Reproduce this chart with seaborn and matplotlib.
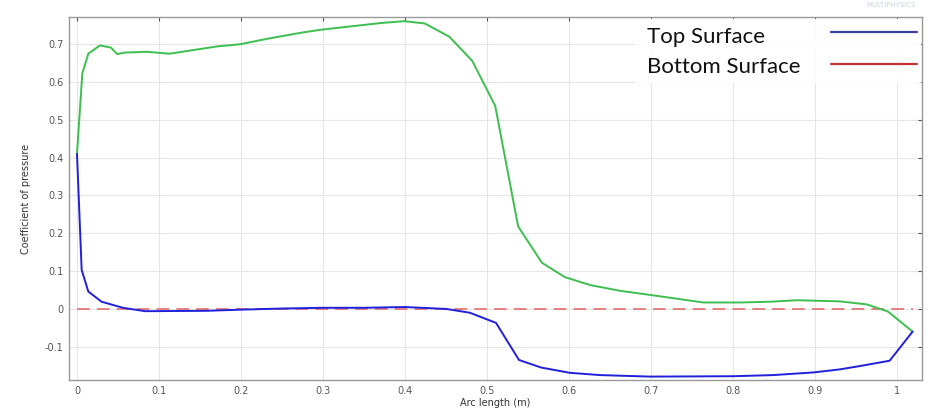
import matplotlib
matplotlib.use("Agg")
import matplotlib.pyplot as plt
import seaborn as sns
from matplotlib.lines import Line2D
from matplotlib.patches import Rectangle

# Upper (green) curve
green_x = [0.0, 0.0065, 0.0138, 0.028, 0.0415, 0.049, 0.0585, 0.085, 0.113, 0.170, 0.199,
           0.231, 0.272, 0.296, 0.370, 0.399, 0.424, 0.454, 0.482, 0.510, 0.538, 0.567,
           0.595, 0.626, 0.662, 0.699, 0.764, 0.809, 0.845, 0.878, 0.930, 0.963, 0.989, 1.019]
green_y = [0.41, 0.623, 0.675, 0.697, 0.691, 0.674, 0.678, 0.680, 0.675, 0.694, 0.700,
           0.714, 0.730, 0.738, 0.756, 0.761, 0.755, 0.720, 0.656, 0.537, 0.218, 0.122,
           0.084, 0.063, 0.048, 0.037, 0.017, 0.017, 0.019, 0.023, 0.020, 0.012, -0.007, -0.060]

# Lower (blue) curve
blue_x = [0.0, 0.0057, 0.0138, 0.030, 0.056, 0.083, 0.158, 0.199, 0.250, 0.300, 0.350,
          0.400, 0.450, 0.479, 0.511, 0.539, 0.566, 0.601, 0.638, 0.699, 0.800, 0.849,
          0.898, 0.930, 0.955, 0.991, 1.019]
blue_y = [0.41, 0.103, 0.046, 0.019, 0.003, -0.006, -0.005, -0.002, 0.001, 0.003, 0.003,
          0.005, 0.000, -0.010, -0.037, -0.135, -0.155, -0.169, -0.175, -0.179, -0.178, -0.175,
          -0.168, -0.160, -0.151, -0.137, -0.060]

# Reference (red dashed) line
ref_x = [0.0, 1.019]
ref_y = [0.0, 0.0]

legend_labels = ["Top Surface", "Bottom Surface"]
x_ticks = [0, 0.1, 0.2, 0.3, 0.4, 0.5, 0.6, 0.7, 0.8, 0.9, 1.0]
x_tick_labels = ["0", "0.1", "0.2", "0.3", "0.4", "0.5", "0.6", "0.7", "0.8", "0.9", "1"]
y_ticks = [-0.1, 0, 0.1, 0.2, 0.3, 0.4, 0.5, 0.6, 0.7]
y_tick_labels = ["-0.1", "0", "0.1", "0.2", "0.3", "0.4", "0.5", "0.6", "0.7"]

GREEN = "#3dbf4f"
BLUE = "#2020dc"
RED = "#e06a6a"
LEG_COLORS = ["#3a3f9a", "#c0353a"]

W, H = 942, 418
sns.set_style("white")
fig = plt.figure(figsize=(9.42, 4.18), dpi=100)
ax = fig.add_axes([0.0732, 0.0909, 0.9056, 0.8684])

ax.grid(True, color="#e6e6e6", linewidth=0.8)
ax.set_axisbelow(True)

sns.lineplot(x=ref_x, y=ref_y, ax=ax, color=RED, linewidth=1.3, sort=False,
             linestyle=(0, (7, 4)), alpha=0.9)
sns.lineplot(x=green_x, y=green_y, ax=ax, color=GREEN, linewidth=1.4, sort=False)
sns.lineplot(x=blue_x, y=blue_y, ax=ax, color=BLUE, linewidth=1.4, sort=False)

ax.set_xlim(-0.0098, 1.0305)
ax.set_ylim(-0.188, 0.772)
ax.set_xticks(x_ticks)
ax.set_xticklabels(x_tick_labels)
ax.set_yticks(y_ticks)
ax.set_yticklabels(y_tick_labels)
ax.tick_params(axis="both", labelsize=7, colors="#555555", length=3, direction="in",
               top=True, right=True, pad=4)
for s in ax.spines.values():
    s.set_color("#999999")
    s.set_linewidth(1.0)

ax.set_xlabel("Arc length (m)", fontsize=7, color="#333333", labelpad=2)
ax.set_ylabel("Coefficient of pressure", fontsize=7, color="#333333", labelpad=10)

# Pasted legend panel (white box, left-aligned labels, samples on the right)
fig.patches.append(Rectangle((635 / W, 1 - 83 / H), (921 - 635) / W, (83 - 19) / H,
                             transform=fig.transFigure, facecolor="white",
                             edgecolor="none", alpha=0.92, zorder=5))
baselines = [43, 73]
line_ys = [32, 64]
for lab, col, bl, ly in zip(legend_labels, LEG_COLORS, baselines, line_ys):
    fig.text(647 / W, 1 - bl / H, lab, family="Lato", fontsize=16, color="#111111",
             ha="left", va="baseline", zorder=6)
    fig.lines.append(Line2D([831 / W, 917 / W], [1 - ly / H, 1 - ly / H],
                            transform=fig.transFigure, color=col, linewidth=1.6, zorder=6))

fig.text(0.972, 0.995, "MULTIPHYSICS", fontsize=5, color="#c8d4e0", ha="right", va="top")

fig.savefig("out.png", dpi=100)
